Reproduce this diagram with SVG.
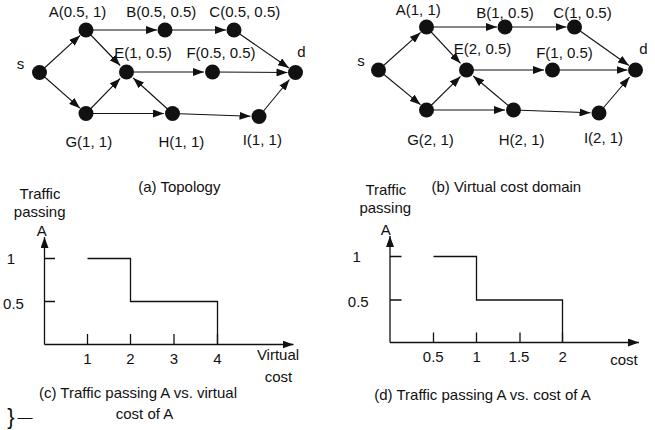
<svg xmlns="http://www.w3.org/2000/svg" width="655" height="430" viewBox="0 0 655 430">
<style>
text{font-family:"Liberation Sans",Arial,sans-serif;font-size:15px;fill:#111;text-anchor:middle}
.e{stroke:#111;stroke-width:1.1;fill:none;marker-end:url(#ah)}
.ax{stroke:#111;stroke-width:1.3;fill:none}
.n{fill:#111}
</style>
<defs>
<marker id="ah" markerUnits="userSpaceOnUse" markerWidth="11" markerHeight="8" refX="11" refY="4" orient="auto"><path d="M0,0 L11,4 L0,8 z" fill="#111"/></marker>
</defs>
<rect width="655" height="430" fill="#fff"/>

<!-- Left topology -->
<g id="connectors-a">
<line class="e" x1="39.5" y1="72.5" x2="80.1" y2="35.4"/>
<line class="e" x1="39.5" y1="72.5" x2="80" y2="108.2"/>
<line class="e" x1="86" y1="30" x2="157" y2="30"/>
<line class="e" x1="165" y1="30" x2="226" y2="30"/>
<line class="e" x1="234" y1="30" x2="288.9" y2="68"/>
<line class="e" x1="86" y1="30" x2="120.2" y2="65.5"/>
<line class="e" x1="126.5" y1="72" x2="204" y2="72"/>
<line class="e" x1="212.5" y1="72" x2="287.5" y2="72.5"/>
<line class="e" x1="86" y1="113.5" x2="120.2" y2="78.4"/>
<line class="e" x1="86" y1="113.5" x2="164" y2="113.5"/>
<line class="e" x1="172.5" y1="113.5" x2="133.2" y2="78"/>
<line class="e" x1="172.5" y1="113.5" x2="250.5" y2="116.2"/>
<line class="e" x1="259" y1="116.5" x2="289.5" y2="79.5"/>
</g>
<g id="a-s"><circle class="n" cx="39.5" cy="72.5" r="7.5"/><text x="20.5" y="69">s</text></g>
<g id="a-A"><circle class="n" cx="86" cy="30" r="7.5"/><text x="77.5" y="17">A(0.5, 1)</text></g>
<g id="a-B"><circle class="n" cx="165" cy="30" r="7.5"/><text x="161.3" y="17">B(0.5, 0.5)</text></g>
<g id="a-C"><circle class="n" cx="234" cy="30" r="7.5"/><text x="244.8" y="17">C(0.5, 0.5)</text></g>
<g id="a-E"><circle class="n" cx="126.5" cy="72" r="7.5"/><text x="143" y="58">E(1, 0.5)</text></g>
<g id="a-F"><circle class="n" cx="212.5" cy="72" r="7.5"/><text x="221" y="58">F(0.5, 0.5)</text></g>
<g id="a-d"><circle class="n" cx="295.5" cy="72.5" r="7.5"/><text x="301.3" y="57">d</text></g>
<g id="a-G"><circle class="n" cx="86" cy="113.5" r="7.5"/><text x="88.8" y="147">G(1, 1)</text></g>
<g id="a-H"><circle class="n" cx="172.5" cy="113.5" r="7.5"/><text x="181.3" y="147">H(1, 1)</text></g>
<g id="a-I"><circle class="n" cx="259" cy="116.5" r="7.5"/><text x="262.3" y="145">I(1, 1)</text></g>

<!-- Right topology -->
<g id="connectors-b">
<line class="e" x1="378.5" y1="70" x2="420.6" y2="32.4"/>
<line class="e" x1="378.5" y1="70" x2="420.5" y2="104.7"/>
<line class="e" x1="426.5" y1="27" x2="497" y2="27"/>
<line class="e" x1="505" y1="27" x2="566.5" y2="27"/>
<line class="e" x1="574.5" y1="27" x2="628.9" y2="65.5"/>
<line class="e" x1="426.5" y1="27" x2="460.5" y2="63.3"/>
<line class="e" x1="466.5" y1="70" x2="544" y2="70"/>
<line class="e" x1="552.5" y1="70" x2="627.5" y2="70"/>
<line class="e" x1="426.5" y1="110" x2="460.5" y2="76.4"/>
<line class="e" x1="426.5" y1="110" x2="505" y2="110"/>
<line class="e" x1="513.5" y1="110" x2="473.2" y2="76"/>
<line class="e" x1="513.5" y1="110" x2="590.5" y2="112.8"/>
<line class="e" x1="599" y1="113" x2="629.6" y2="77"/>
</g>
<g id="b-s"><circle class="n" cx="378.5" cy="70" r="7.5"/><text x="361" y="66">s</text></g>
<g id="b-A"><circle class="n" cx="426.5" cy="27" r="7.5"/><text x="418.3" y="15">A(1, 1)</text></g>
<g id="b-B"><circle class="n" cx="505" cy="27" r="7.5"/><text x="505" y="17.5">B(1, 0.5)</text></g>
<g id="b-C"><circle class="n" cx="574.5" cy="27" r="7.5"/><text x="582.5" y="17.5">C(1, 0.5)</text></g>
<g id="b-E"><circle class="n" cx="466.5" cy="70" r="7.5"/><text x="482.5" y="54">E(2, 0.5)</text></g>
<g id="b-F"><circle class="n" cx="552.5" cy="70" r="7.5"/><text x="564.5" y="58">F(1, 0.5)</text></g>
<g id="b-d"><circle class="n" cx="635.5" cy="70" r="7.5"/><text x="643.3" y="53.5">d</text></g>
<g id="b-G"><circle class="n" cx="426.5" cy="110" r="7.5"/><text x="430.5" y="145">G(2, 1)</text></g>
<g id="b-H"><circle class="n" cx="513.5" cy="110" r="7.5"/><text x="521.7" y="145">H(2, 1)</text></g>
<g id="b-I"><circle class="n" cx="599" cy="113" r="7.5"/><text x="603.5" y="143">I(2, 1)</text></g>

<text x="179.3" y="192">(a) Topology</text>
<text x="506.3" y="191.7">(b) Virtual cost domain</text>

<!-- Plot c -->
<g id="plot-c">
<text x="40" y="198.5">Traffic</text>
<text x="39.7" y="216.5">passing</text>
<text x="41.7" y="236">A</text>
<line class="ax" x1="44.5" y1="344.5" x2="44.5" y2="237" marker-end="url(#ah)"/>
<line class="ax" x1="44.5" y1="344.5" x2="293.5" y2="344.5" marker-end="url(#ah)"/>
<path class="ax" d="M44.5,258.5H55M44.5,301.5H55M87.5,334V344.5M130.5,334V344.5M174,334V344.5M217.5,334V344.5"/>
<path class="ax" d="M87.5,258.5H130.5V301.5H217.5V344.5"/>
<text x="11" y="263.5">1</text>
<text x="13.5" y="308.5">0.5</text>
<text x="87.5" y="364">1</text>
<text x="130.5" y="364">2</text>
<text x="174" y="364">3</text>
<text x="217.5" y="364">4</text>
<text x="278" y="360">Virtual</text>
<text x="278.5" y="381.7">cost</text>
<text x="138" y="398.3">(c) Traffic passing A vs. virtual</text>
<text x="144.5" y="419.3">cost of A</text>
</g>

<!-- Plot d -->
<g id="plot-d">
<text x="385.8" y="195">Traffic</text>
<text x="385.3" y="213.3">passing</text>
<text x="385.8" y="235">A</text>
<line class="ax" x1="390" y1="342.5" x2="390" y2="236" marker-end="url(#ah)"/>
<line class="ax" x1="390" y1="342.5" x2="639" y2="342.5" marker-end="url(#ah)"/>
<path class="ax" d="M390,256.5H401.5M390,300H401.5M433.5,332.5V342.5M476.5,332.5V342.5M520,332.5V342.5M562.5,332.5V342.5"/>
<path class="ax" d="M433.5,256.5H476.5V300H562.5V342.5"/>
<text x="356.7" y="261.7">1</text>
<text x="358.3" y="306.7">0.5</text>
<text x="433.3" y="362.3">0.5</text>
<text x="476.7" y="362.3">1</text>
<text x="519" y="362.3">1.5</text>
<text x="562.7" y="362.3">2</text>
<text x="624" y="365">cost</text>
<text x="482.5" y="400">(d) Traffic passing A vs. cost of A</text>
</g>

<text x="11" y="424" style="font-size:22px">}</text>
<text x="25" y="422">—</text>
</svg>
